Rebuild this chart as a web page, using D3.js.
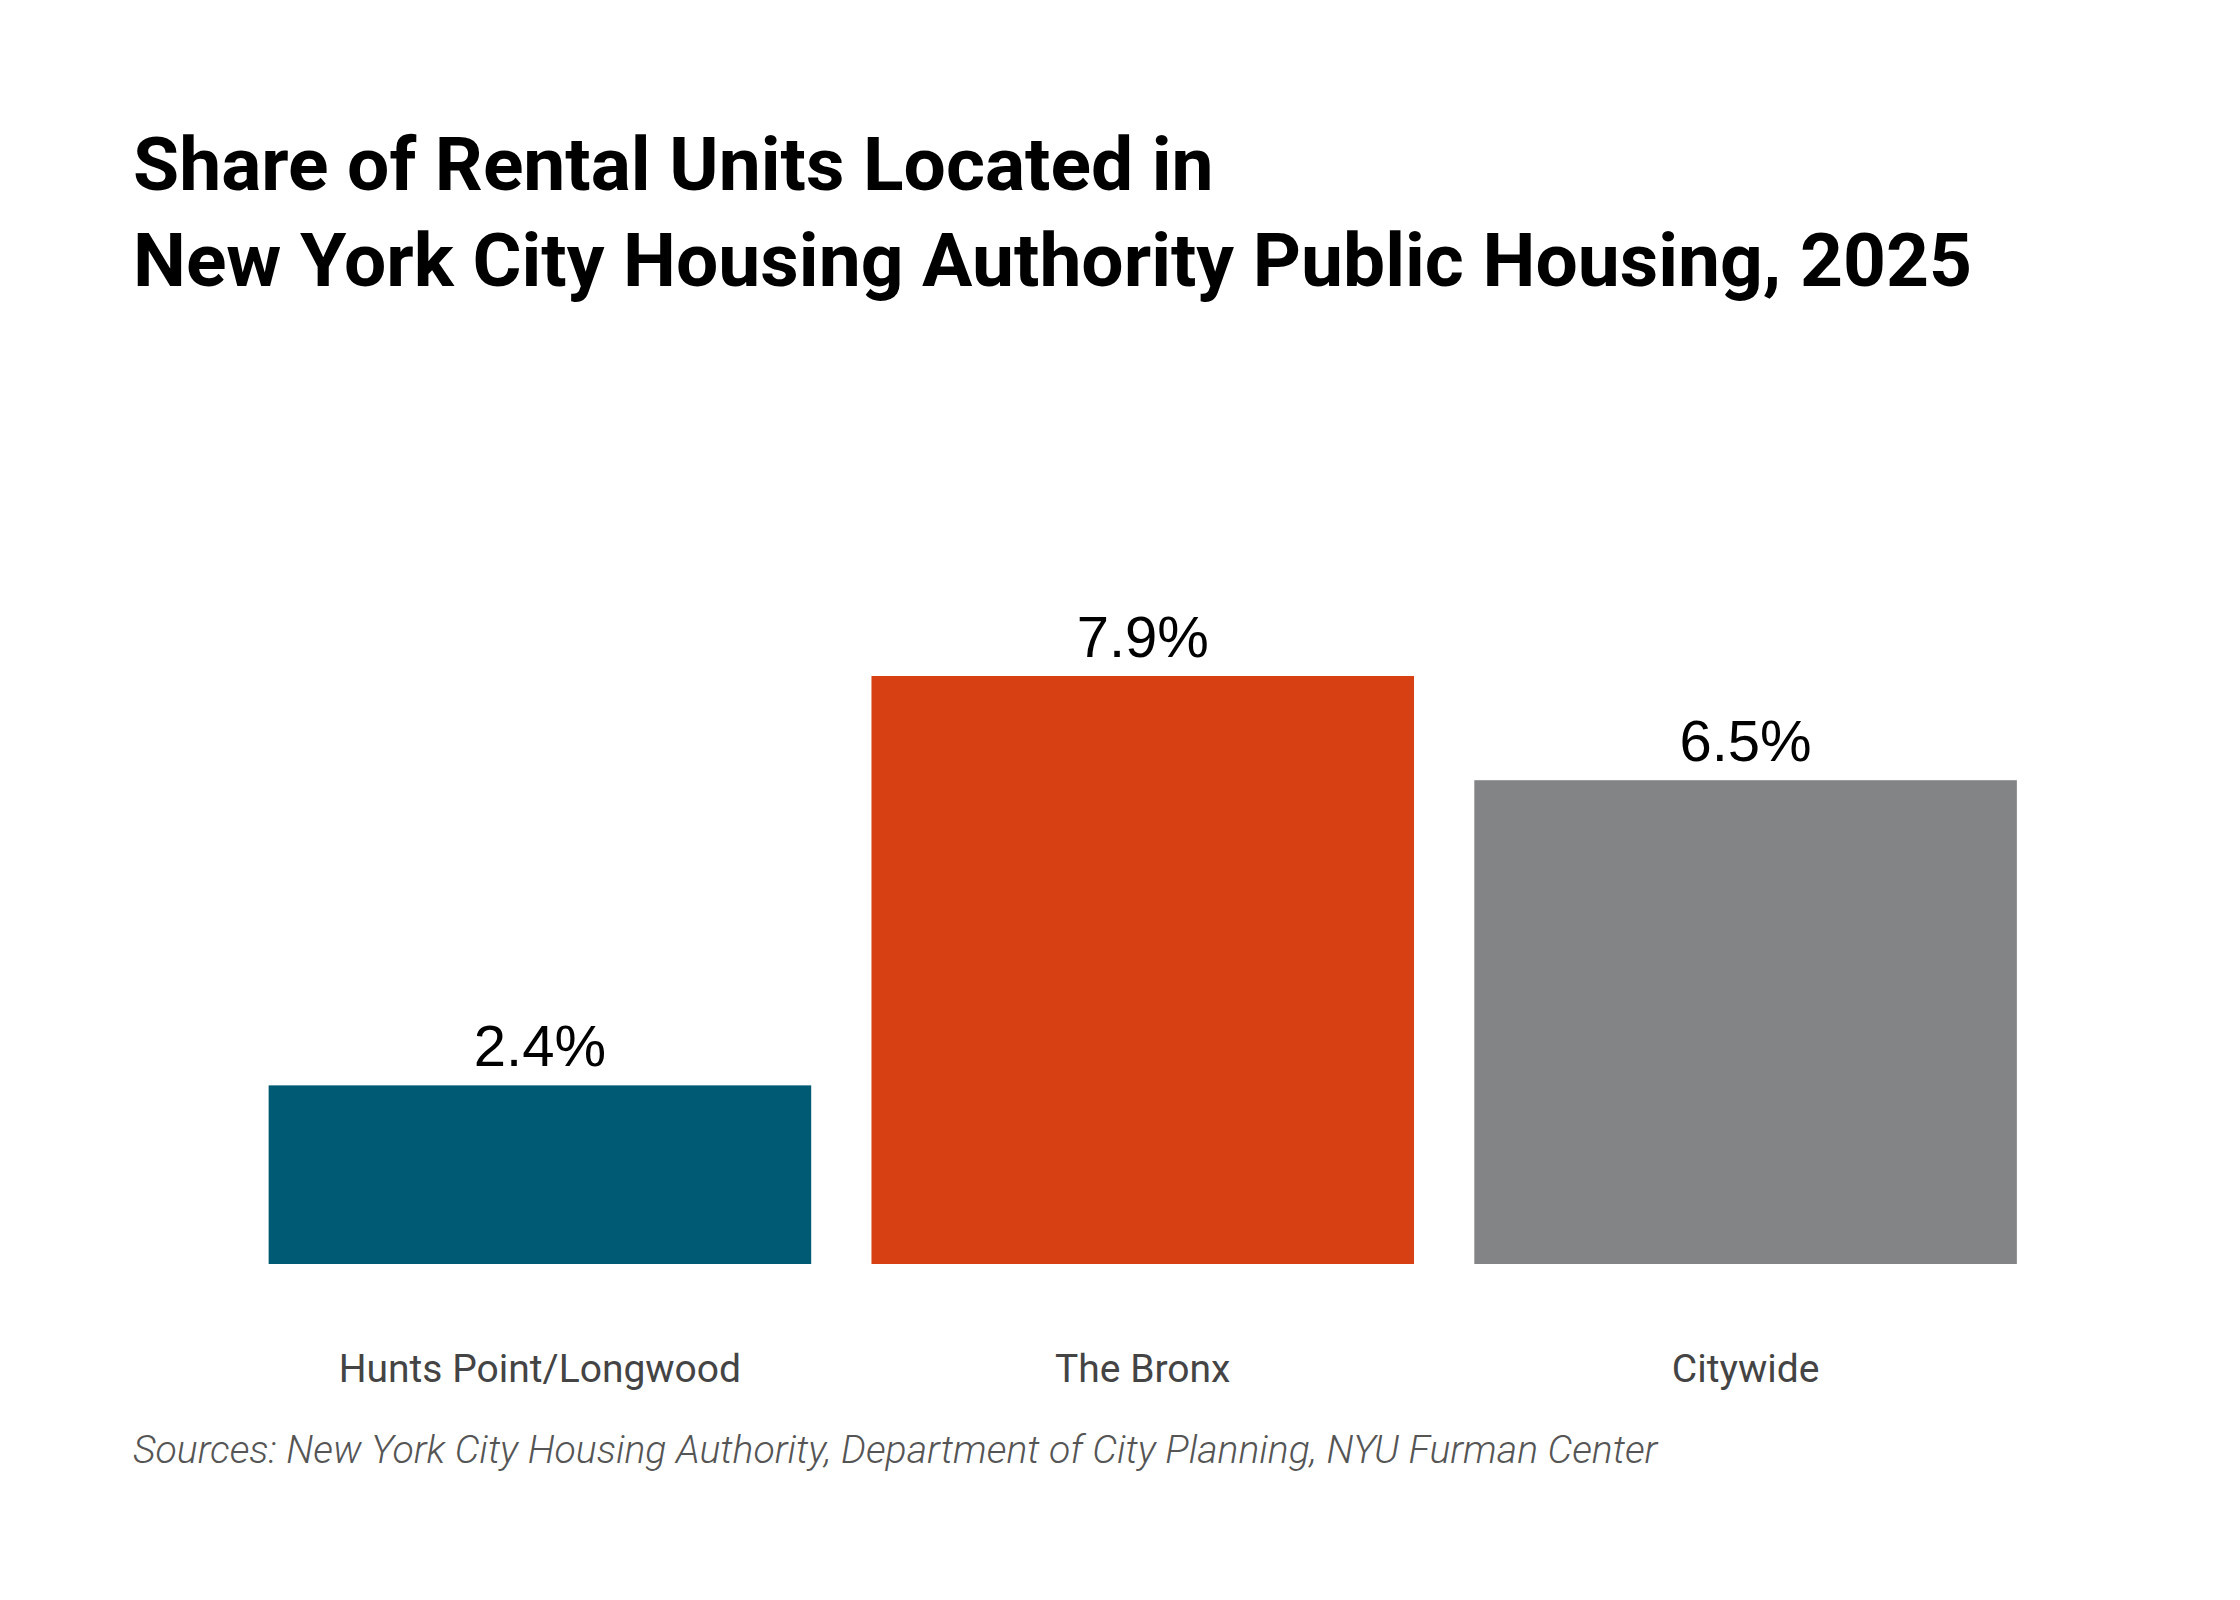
<!DOCTYPE html>
<html>
<head>
<meta charset="utf-8">
<script src="https://cdn.jsdelivr.net/npm/d3@7"></script>
<style>
  html, body { margin: 0; padding: 0; background: #fff; }
  svg { display: block; }
</style>
</head>
<body>
<script>
// ---- data ----
const categories = ["Hunts Point/Longwood", "The Bronx", "Citywide"];
const values = [2.4, 7.9, 6.5];
const valueLabels = ["2.4%", "7.9%", "6.5%"];
const barColors = ["#005a73", "#d64012", "#838486"];
const titleLines = ["Share of Rental Units Located in", "New York City Housing Authority Public Housing, 2025"];
const sourceText = "Sources: New York City Housing Authority, Department of City Planning, NYU Furman Center";

const W = 2240, H = 1600;
const svg = d3.select("body").append("svg").attr("width", W).attr("height", H);

function fitWidth(sel, target) {
  const node = sel.node();
  const fs = parseFloat(sel.attr("font-size"));
  const w = node.getComputedTextLength();
  if (w > 0) sel.attr("font-size", (fs * target / w).toFixed(2));
  return sel;
}

// title
const t2 = svg.append("text").attr("x", 133).attr("y", 286)
  .attr("font-family", "Roboto, 'Open Sans', sans-serif").attr("font-weight", 700)
  .attr("font-size", 64).attr("fill", "#000").text(titleLines[1]);
fitWidth(t2, 1839);
const tfs = t2.attr("font-size");
svg.append("text").attr("x", 133).attr("y", 190)
  .attr("font-family", "Roboto, 'Open Sans', sans-serif").attr("font-weight", 700)
  .attr("font-size", tfs).attr("fill", "#000").text(titleLines[0]);

// scales
const x = d3.scaleBand().domain(categories).range([238.5, 2047]).paddingInner(0.1).paddingOuter(0.05);
const y = d3.scaleLinear().domain([0, d3.max(values)]).range([1264, 676]);

const data = categories.map((c, i) => ({ c, v: values[i], label: valueLabels[i], color: barColors[i] }));

svg.append("g").selectAll("rect").data(data).join("rect")
  .attr("x", d => x(d.c)).attr("width", x.bandwidth())
  .attr("y", d => y(d.v)).attr("height", d => y(0) - y(d.v))
  .attr("fill", d => d.color);

svg.append("g").selectAll("text").data(data).join("text")
  .attr("x", d => x(d.c) + x.bandwidth() / 2).attr("y", d => y(d.v) - 19)
  .attr("text-anchor", "middle")
  .attr("font-family", "'Liberation Sans', Arial, sans-serif").attr("font-size", 58)
  .attr("fill", "#000").text(d => d.label);

// x axis labels
const xAxis = d3.axisBottom(x).tickSize(0).tickPadding(0);
const gx = svg.append("g").attr("transform", `translate(0,${y(0)})`).call(xAxis);
gx.select(".domain").remove();
gx.selectAll("text")
  .attr("dy", null).attr("y", 118)
  .attr("font-family", "Roboto, 'Open Sans', sans-serif").attr("font-size", 39)
  .attr("fill", "#444");

// source
const src = svg.append("text").attr("x", 133).attr("y", 1463)
  .attr("font-family", "Roboto, 'Open Sans', sans-serif").attr("font-style", "italic").attr("font-weight", 300)
  .attr("font-size", 36).attr("fill", "#555").text(sourceText);
fitWidth(src, 1525);
</script>
</body>
</html>
